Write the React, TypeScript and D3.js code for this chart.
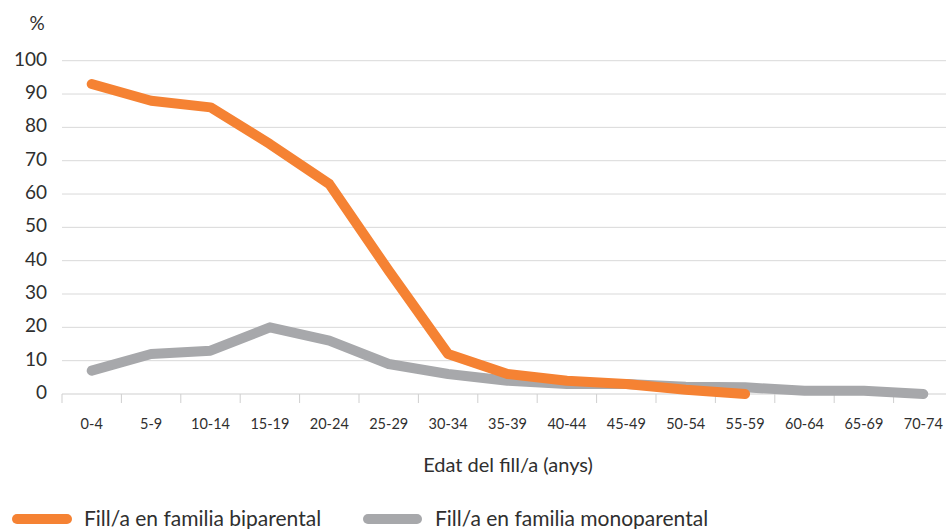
import * as d3 from "d3";

const categories = ["0-4", "5-9", "10-14", "15-19", "20-24", "25-29", "30-34", "35-39", "40-44", "45-49", "50-54", "55-59", "60-64", "65-69", "70-74"];
const biparental = [93, 88, 86, 75, 63, 37, 12, 6, 4, 3, 1.3, 0];
const monoparental = [7, 12, 13, 20, 16, 9, 6, 4, 3, 3, 2.2, 2, 1, 1, 0];
const yTicks = [0, 10, 20, 30, 40, 50, 60, 70, 80, 90, 100];

const W = 946;
const H = 529;
const ORANGE = "#f58233";
const GRAY = "#a7a8ab";
const FONT = "Lato, 'Open Sans', sans-serif";
const TXT = "#2f2f2f";

const App = () => {
  const x = d3.scaleBand<string>().domain(categories).range([62, 62 + 15 * 59.4]);
  const y = d3.scaleLinear().domain([0, 100]).range([394, 60.7]);

  const line = d3
    .line<number>()
    .x((_, i) => (x(categories[i]) as number) + x.bandwidth() / 2)
    .y((d) => y(d));

  const plotRight = W;

  return (
    <svg width={W} height={H} style={{ position: "absolute", left: 0, top: 0 }} fontFamily={FONT}>
      {/* grid + y labels */}
      {yTicks.map((t) => (
        <g key={t}>
          {t > 0 && (
            <line x1={62} x2={plotRight} y1={y(t)} y2={y(t)} stroke="#d9d9d9" strokeWidth={1} />
          )}
          <text x={47} y={y(t) - 2} dy="0.36em" textAnchor="end" fontSize={19} fill={TXT}>
            {t}
          </text>
        </g>
      ))}
      <text x={37} y={23} dy="0.36em" textAnchor="middle" fontSize={19} fill={TXT}>
        %
      </text>

      {/* x axis */}
      <line x1={62} x2={plotRight} y1={y(0)} y2={y(0)} stroke="#cfcfcf" strokeWidth={1} />
      {categories.map((c) => (
        <g key={c}>
          <line x1={x(c)} x2={x(c)} y1={y(0)} y2={y(0) + 9} stroke="#cfcfcf" strokeWidth={1} />
          <text
            x={(x(c) as number) + x.bandwidth() / 2}
            y={424}
            dy="0.36em"
            textAnchor="middle"
            fontSize={14.5}
            fill={TXT}
          >
            {c}
          </text>
        </g>
      ))}
      <text x={508} y={465} dy="0.36em" textAnchor="middle" fontSize={20} fill={TXT}>
        Edat del fill/a (anys)
      </text>

      {/* series */}
      <path d={line(monoparental) ?? ""} fill="none" stroke={GRAY} strokeWidth={10} strokeLinecap="round" strokeLinejoin="round" />
      <path d={line(biparental) ?? ""} fill="none" stroke={ORANGE} strokeWidth={10} strokeLinecap="round" strokeLinejoin="round" />

      {/* legend */}
      <line x1={17} x2={67} y1={519} y2={519} stroke={ORANGE} strokeWidth={10} strokeLinecap="round" />
      <text x={84} y={518} dy="0.36em" fontSize={21} fill={TXT}>
        Fill/a en familia biparental
      </text>
      <line x1={368} x2={417} y1={519} y2={519} stroke={GRAY} strokeWidth={10} strokeLinecap="round" />
      <text x={435} y={518} dy="0.36em" fontSize={21} fill={TXT}>
        Fill/a en familia monoparental
      </text>
    </svg>
  );
};

export default App;
